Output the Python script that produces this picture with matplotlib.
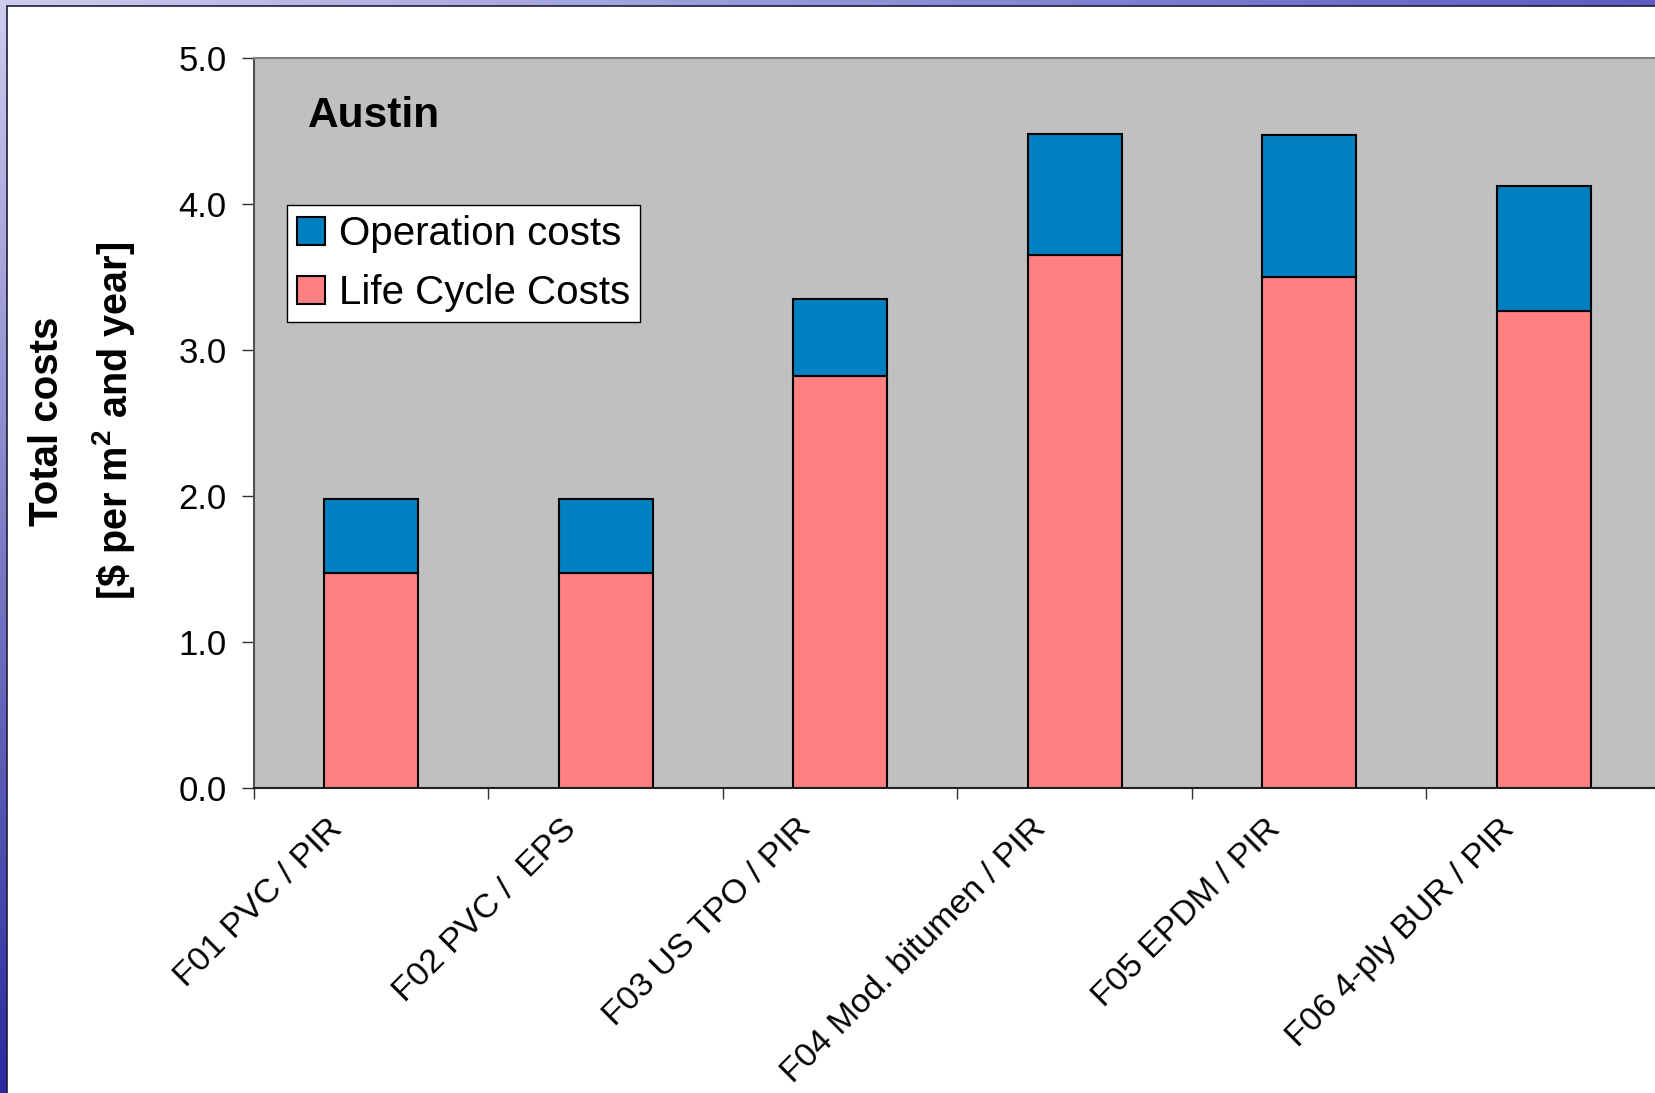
import numpy as np
import matplotlib
matplotlib.use('Agg')
import matplotlib.pyplot as plt
from matplotlib.patches import Rectangle
from matplotlib.transforms import ScaledTranslation

# Roofing systems and their annual costs (US$ per m² and year)
categories = ['F01 PVC / PIR', 'F02 PVC /  EPS', 'F03 US TPO / PIR',
              'F04 Mod. bitumen / PIR', 'F05 EPDM / PIR', 'F06 4-ply BUR / PIR']
life_cycle_costs = [1.47, 1.47, 2.82, 3.65, 3.50, 3.27]
operation_costs = [0.51, 0.51, 0.53, 0.83, 0.97, 0.85]
y_ticks = [0.0, 1.0, 2.0, 3.0, 4.0, 5.0]
city = 'Austin'

plt.rcParams['font.family'] = ['Liberation Sans', 'DejaVu Sans']
plt.rcParams['mathtext.fontset'] = 'custom'
plt.rcParams['mathtext.rm'] = 'Liberation Sans:bold'
plt.rcParams['mathtext.bf'] = 'Liberation Sans:bold'

W, H = 1656, 1093
fig = plt.figure(figsize=(W / 100, H / 100), dpi=100)

# Slide background: blue gradient frame with a white panel
bg = fig.add_axes([0, 0, 1, 1], zorder=0)
bg.set_xlim(0, W)
bg.set_ylim(H, 0)
bg.axis('off')
u = np.linspace(0, 1, 64)[None, :, None]
v = np.linspace(0, 1, 64)[:, None, None]
tl = np.array([0.80, 0.80, 0.93])
tr = np.array([0.36, 0.36, 0.76])
bl = np.array([0.17, 0.17, 0.62])
br = np.array([0.14, 0.14, 0.60])
grad = (1 - v) * ((1 - u) * tl + u * tr) + v * ((1 - u) * bl + u * br)
bg.imshow(grad, extent=(0, W, H, 0), aspect='auto', interpolation='bilinear')
bg.add_patch(Rectangle((7, 6), W, H, facecolor='white', edgecolor='#1c1c40', lw=1.2))

# Chart area
ax = fig.add_axes([254 / W, 1 - 788 / H, (1661 - 254) / W, (788 - 58) / H], zorder=1)
ax.set_facecolor('#C0C0C0')
x = np.arange(len(categories)) + 0.5
b_lcc = ax.bar(x, life_cycle_costs, width=0.4, color='#FF8080',
               edgecolor='black', linewidth=1.5, label='Life Cycle Costs', zorder=2)
b_op = ax.bar(x, operation_costs, bottom=life_cycle_costs, width=0.4, color='#0080C0',
              edgecolor='black', linewidth=1.5, label='Operation costs', zorder=2)

ax.set_xlim(0, len(categories))
ax.set_ylim(0, 5)
ax.set_yticks(y_ticks)
ax.set_yticklabels([f'{t:.1f}' for t in y_ticks])
ax.set_xticks(np.arange(len(categories) + 1))
ax.set_xticklabels([])
ax.set_xticks(x, minor=True)
ax.set_xticklabels(categories, minor=True, rotation=45, ha='right',
                   rotation_mode='anchor', va='center', fontsize=24.5)
ax.tick_params(axis='x', which='minor', length=0, pad=26)
ax.tick_params(axis='x', which='major', length=8, width=1, direction='out', color='#303030')
ax.tick_params(axis='y', length=8.6, width=1, direction='out', pad=11,
               labelsize=25, color='#303030')

ax.spines['right'].set_visible(False)
ax.spines['left'].set_color('#505050')
ax.spines['left'].set_linewidth(1.5)
ax.spines['bottom'].set_color('#202020')
ax.spines['bottom'].set_linewidth(1.5)
ax.spines['top'].set_color('#808080')
ax.spines['top'].set_linewidth(1.5)

shift = ScaledTranslation(-34 / 100, 0, fig.dpi_scale_trans)
for lab in ax.get_xticklabels(minor=True):
    lab.set_transform(lab.get_transform() + shift)

leg = ax.legend(handles=[b_op, b_lcc], labels=['Operation costs', 'Life Cycle Costs'],
                loc='upper left', bbox_to_anchor=(0.0235, 0.7986), borderaxespad=0,
                fontsize=29, frameon=True, fancybox=False, edgecolor='black',
                framealpha=1, handlelength=0.68, handleheight=0.68,
                handletextpad=0.35, labelspacing=0.52, borderpad=0.25)
leg.get_frame().set_linewidth(1.0)

ax.text(0.0384, 0.905, city, transform=ax.transAxes, fontsize=30.5,
        fontweight='bold', va='baseline', ha='left')

fig.text(47 / W, 1 - 421 / H, 'Total costs', rotation=90, ha='center',
         va='center', fontsize=29, fontweight='bold')
fig.text(114 / W, 1 - 421 / H, r'[\$ per m$^{2}$ and year]', rotation=90,
         ha='center', va='center', fontsize=28.5, fontweight='bold')

fig.savefig('out.png', dpi=100)
